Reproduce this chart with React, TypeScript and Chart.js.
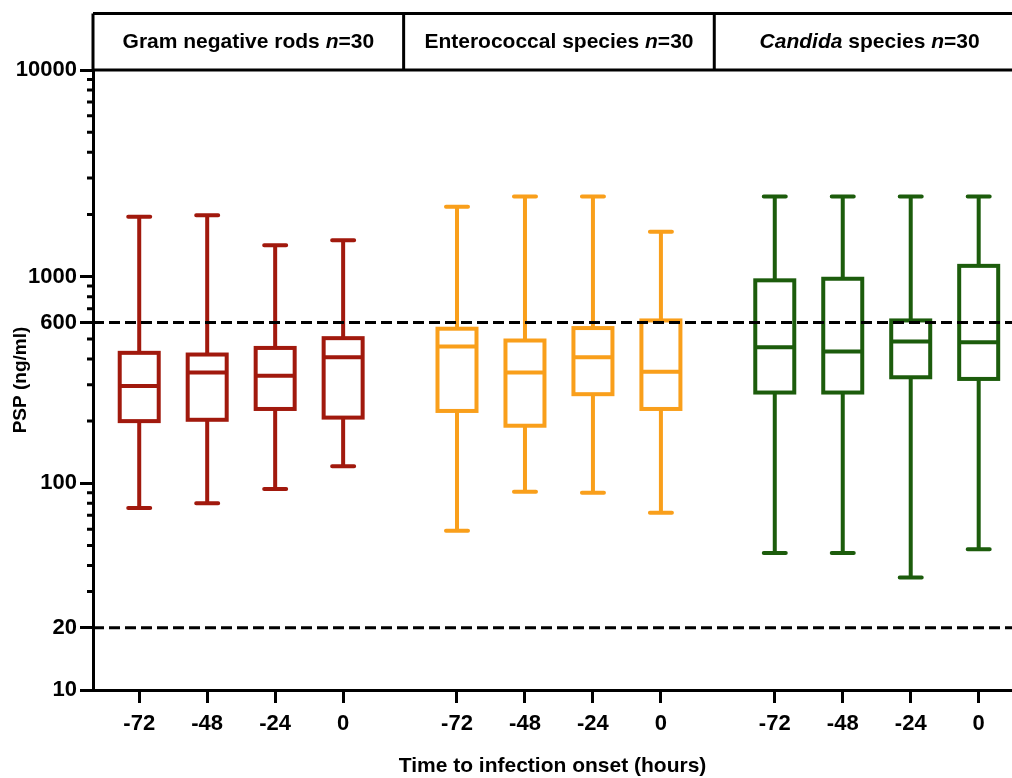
import React, { useEffect, useRef } from 'react';
import { Chart, registerables } from 'chart.js';

Chart.register(...registerables);

// ---------- data ----------
const TIMES = ['-72', '-48', '-24', '0'];
const GROUP_NAMES = ['Gram negative rods', 'Enterococcal species', 'Candida species'];
const GROUP_COLORS = ['#A1190D', '#F99F1B', '#1C5C0C'];

const GNR_MIN = [76, 80, 94, 121];
const GNR_Q1 = [200, 203, 229, 208];
const GNR_MEDIAN = [296, 344, 332, 407];
const GNR_Q3 = [428, 420, 452, 504];
const GNR_MAX = [1950, 1980, 1420, 1500];

const ENT_MIN = [59, 91, 90, 72];
const ENT_Q1 = [224, 190, 270, 229];
const ENT_MEDIAN = [459, 344, 407, 347];
const ENT_Q3 = [560, 491, 564, 614];
const ENT_MAX = [2180, 2440, 2440, 1650];

const CAN_MIN = [46, 46, 35, 48];
const CAN_Q1 = [275, 275, 326, 320];
const CAN_MEDIAN = [456, 434, 485, 482];
const CAN_Q3 = [960, 977, 614, 1128];
const CAN_MAX = [2440, 2440, 2440, 2440];

// header title segments: [text, italic]
const HEADER_GNR: [string, boolean][] = [['Gram negative rods ', false], ['n', true], ['=30', false]];
const HEADER_ENT: [string, boolean][] = [['Enterococcal species ', false], ['n', true], ['=30', false]];
const HEADER_CAN: [string, boolean][] = [['Candida', true], [' species ', false], ['n', true], ['=30', false]];

const Y_MAJOR = [10, 20, 100, 600, 1000, 10000];
const Y_MINOR = [30, 40, 50, 60, 70, 80, 90, 200, 300, 400, 500, 700, 800, 900, 2000, 3000, 4000, 5000, 6000, 7000, 8000, 9000];
const REF_LINES = [600, 20];

// ---------- layout config ----------
const FONT = '"Liberation Sans", Arial, Helvetica, sans-serif';
const X_MIN = -0.68;
const X_MAX = 12.84;
const GROUP_STEP = 4.675;
const PANEL_WIDTH = 4.57;

const STATS = [
  { min: GNR_MIN, q1: GNR_Q1, med: GNR_MEDIAN, q3: GNR_Q3, max: GNR_MAX, header: HEADER_GNR },
  { min: ENT_MIN, q1: ENT_Q1, med: ENT_MEDIAN, q3: ENT_Q3, max: ENT_MAX, header: HEADER_ENT },
  { min: CAN_MIN, q1: CAN_Q1, med: CAN_MEDIAN, q3: CAN_Q3, max: CAN_MAX, header: HEADER_CAN },
];

const pos = (g: number, i: number) => g * GROUP_STEP + i;
const X_TICKS: number[] = [];
STATS.forEach((_, g) => TIMES.forEach((__, i) => X_TICKS.push(pos(g, i))));

const boxPlugin = {
  id: 'boxPlot',
  afterDatasetsDraw(chart: any) {
    const ctx = chart.ctx;
    const yScale = chart.scales.y;
    const area = chart.chartArea;
    ctx.save();
    STATS.forEach((s, g) => {
      const meta = chart.getDatasetMeta(g);
      const color = GROUP_COLORS[g];
      meta.data.forEach((bar: any, i: number) => {
        const p = bar.getProps(['x', 'y', 'base', 'width'], true);
        const top = Math.min(p.y, p.base);
        const bottom = Math.max(p.y, p.base);
        const w = p.width;
        const x = p.x;
        const yMed = yScale.getPixelForValue(s.med[i]);
        const yMax = yScale.getPixelForValue(s.max[i]);
        const yMin = yScale.getPixelForValue(s.min[i]);
        ctx.strokeStyle = color;
        ctx.lineWidth = 4;
        ctx.setLineDash([]);
        ctx.lineJoin = 'miter';
        ctx.lineCap = 'butt';
        ctx.strokeRect(x - w / 2, top, w, bottom - top);
        ctx.beginPath();
        ctx.moveTo(x - w / 2, yMed);
        ctx.lineTo(x + w / 2, yMed);
        ctx.moveTo(x, top);
        ctx.lineTo(x, yMax);
        ctx.moveTo(x, bottom);
        ctx.lineTo(x, yMin);
        ctx.stroke();
        ctx.lineCap = 'round';
        ctx.beginPath();
        ctx.moveTo(x - 11, yMax);
        ctx.lineTo(x + 11, yMax);
        ctx.moveTo(x - 11, yMin);
        ctx.lineTo(x + 11, yMin);
        ctx.stroke();
      });
    });
    // reference dashed lines
    ctx.strokeStyle = '#000';
    ctx.lineWidth = 3;
    ctx.lineCap = 'butt';
    ctx.setLineDash([11, 5]);
    REF_LINES.forEach((v) => {
      const y = yScale.getPixelForValue(v);
      ctx.beginPath();
      ctx.moveTo(area.left, y);
      ctx.lineTo(chart.width, y);
      ctx.stroke();
    });
    ctx.restore();
  },
  afterDraw(chart: any) {
    const ctx = chart.ctx;
    const xScale = chart.scales.x;
    const yScale = chart.scales.y;
    const area = chart.chartArea;
    ctx.save();
    // minor ticks
    ctx.strokeStyle = '#000';
    ctx.lineWidth = 3;
    ctx.setLineDash([]);
    ctx.beginPath();
    Y_MINOR.forEach((v) => {
      const y = yScale.getPixelForValue(v);
      ctx.moveTo(area.left - 6, y);
      ctx.lineTo(area.left, y);
    });
    ctx.stroke();
    // header panels
    const headTop = 13.5;
    const headBottom = area.top;
    ctx.beginPath();
    ctx.moveTo(area.left, headTop);
    ctx.lineTo(chart.width, headTop);
    const edges: number[] = [];
    for (let k = 0; k <= STATS.length; k++) edges.push(xScale.getPixelForValue(X_MIN + k * PANEL_WIDTH));
    edges.forEach((ex) => {
      ctx.moveTo(ex, headTop);
      ctx.lineTo(ex, headBottom);
    });
    ctx.moveTo(area.left, headBottom);
    ctx.lineTo(chart.width, headBottom);
    ctx.stroke();
    // header text
    ctx.fillStyle = '#000';
    ctx.textBaseline = 'middle';
    ctx.textAlign = 'left';
    STATS.forEach((s, g) => {
      const cx = (edges[g] + edges[g + 1]) / 2;
      const fonts = s.header.map(([, it]) => `${it ? 'italic ' : ''}bold 21px ${FONT}`);
      let total = 0;
      s.header.forEach(([t], j) => {
        ctx.font = fonts[j];
        total += ctx.measureText(t).width;
      });
      let x = cx - total / 2;
      s.header.forEach(([t], j) => {
        ctx.font = fonts[j];
        ctx.fillText(t, x, 42);
        x += ctx.measureText(t).width;
      });
    });
    ctx.restore();
  },
};

export default function App() {
  const ref = useRef<HTMLCanvasElement>(null);
  useEffect(() => {
    const canvas = ref.current;
    if (!canvas) return;
    const chart = new Chart(canvas, {
      type: 'bar',
      data: {
        datasets: STATS.map((s, g) => ({
          label: GROUP_NAMES[g],
          data: TIMES.map((_, i) => ({ x: pos(g, i), y: [s.q1[i], s.q3[i]] })),
          backgroundColor: 'rgba(0,0,0,0)',
          borderWidth: 0,
          barThickness: 39,
          grouped: false,
        })) as any,
      },
      options: {
        animation: false,
        responsive: false,
        devicePixelRatio: 1,
        layout: { padding: { top: 70, left: 0, right: 0, bottom: 0 } },
        plugins: { legend: { display: false }, tooltip: { enabled: false }, title: { display: false } },
        scales: {
          x: {
            type: 'linear',
            min: X_MIN,
            max: X_MAX,
            offset: false,
            afterBuildTicks: (s: any) => {
              s.ticks = X_TICKS.map((v) => ({ value: v }));
            },
            afterFit: (s: any) => {
              s.height = 88;
            },
            ticks: {
              autoSkip: false,
              maxRotation: 0,
              minRotation: 0,
              padding: 8,
              color: '#000',
              font: { family: FONT, size: 22, weight: 'bold' },
              callback: (_v: any, i: number) => TIMES[i % TIMES.length],
            },
            grid: { display: true, offset: false, drawOnChartArea: false, drawTicks: true, tickLength: 13, tickWidth: 3, tickColor: '#000' },
            border: { display: true, width: 3, color: '#000' },
            title: {
              display: true,
              text: 'Time to infection onset (hours)',
              color: '#000',
              font: { family: FONT, size: 21, weight: 'bold' },
              padding: { top: 0, bottom: -1 },
            },
          },
          y: {
            type: 'logarithmic',
            min: 10,
            max: 10000,
            afterBuildTicks: (s: any) => {
              s.ticks = Y_MAJOR.map((v) => ({ value: v }));
            },
            afterFit: (s: any) => {
              s.width = 93;
            },
            ticks: {
              autoSkip: false,
              padding: 3,
              color: '#000',
              font: { family: FONT, size: 22, weight: 'bold' },
              callback: (v: any) => String(v),
            },
            grid: { display: true, offset: false, drawOnChartArea: false, drawTicks: true, tickLength: 13, tickWidth: 3, tickColor: '#000' },
            border: { display: true, width: 3, color: '#000' },
            title: {
              display: true,
              text: 'PSP (ng/ml)',
              color: '#000',
              font: { family: FONT, size: 19, weight: 'bold' },
              padding: { top: 9, bottom: 0 },
            },
          },
        },
      } as any,
      plugins: [boxPlugin],
    });
    return () => chart.destroy();
  }, []);
  return (
    <div style={{ position: 'fixed', left: 0, top: 0, width: 1012, height: 778, overflow: 'hidden', background: '#fff' }}>
      <canvas ref={ref} width={1012} height={778} style={{ display: 'block' }} />
    </div>
  );
}
